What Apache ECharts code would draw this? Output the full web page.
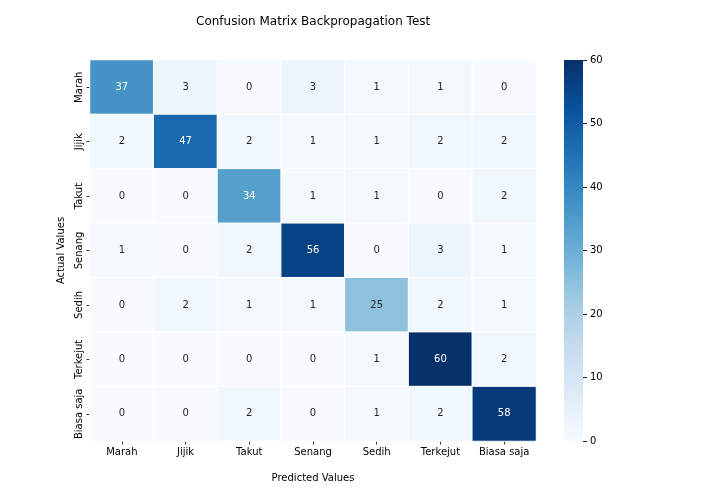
<!DOCTYPE html>
<html>
<head>
<meta charset="utf-8">
<script src="https://cdn.jsdelivr.net/npm/echarts@6/dist/echarts.min.js"></script>
<style>html,body{margin:0;padding:0;background:#fff}#c{width:720px;height:504px}</style>
</head>
<body>
<div id="c"></div>
<script>
var predicted = ['Marah','Jijik','Takut','Senang','Sedih','Terkejut','Biasa saja'];
var actual = ['Marah','Jijik','Takut','Senang','Sedih','Terkejut','Biasa saja'];
var matrix = [
  [37, 3, 0, 3, 1, 1, 0],
  [2, 47, 2, 1, 1, 2, 2],
  [0, 0, 34, 1, 1, 0, 2],
  [1, 0, 2, 56, 0, 3, 1],
  [0, 2, 1, 1, 25, 2, 1],
  [0, 0, 0, 0, 1, 60, 2],
  [0, 0, 2, 0, 1, 2, 58]
];
var colorTicks = [0, 10, 20, 30, 40, 50, 60];
var blues = ['#f7fbff','#deebf7','#c6dbef','#9ecae1','#6baed6','#4292c6','#2171b5','#08519c','#08306b'];

var data = [];
for (var i = 0; i < actual.length; i++) {
  for (var j = 0; j < predicted.length; j++) {
    var v = matrix[i][j];
    data.push({value: [j, i, v], label: {color: v >= 30 ? '#ffffff' : '#262626'}});
  }
}
var stops = blues.map(function (c, k) { return {offset: 1 - k / (blues.length - 1), color: c}; }).reverse();
var font = 'DejaVu Sans';
var chart = echarts.init(document.getElementById('c'));
chart.setOption({
  animation: false,
  textStyle: {fontFamily: font},
  title: {
    text: 'Confusion Matrix Backpropagation Test',
    left: 191, top: 11,
    textStyle: {fontFamily: font, fontSize: 12, fontWeight: 'normal', color: '#000'}
  },
  grid: [
    {left: 90, top: 60, width: 446, height: 381},
    {left: 564, top: 60, width: 19, height: 381}
  ],
  graphic: [{
    type: 'rect', left: 564, top: 60, z: 0,
    shape: {width: 19, height: 381},
    style: {fill: new echarts.graphic.LinearGradient(0, 0, 0, 1, stops)}
  }],
  xAxis: [
    {
      type: 'category', data: predicted, gridIndex: 0,
      name: 'Predicted Values', nameLocation: 'middle', nameGap: 32,
      nameTextStyle: {fontFamily: font, fontSize: 10, color: '#000'},
      axisLine: {show: false},
      axisTick: {show: true, alignWithLabel: true, length: 3.5, lineStyle: {color: '#333'}},
      axisLabel: {fontFamily: font, fontSize: 10, color: '#000', margin: 6, interval: 0},
      splitLine: {show: false}
    },
    {type: 'value', gridIndex: 1, show: false, min: 0, max: 1}
  ],
  yAxis: [
    {
      type: 'category', data: actual, gridIndex: 0, inverse: true,
      name: 'Actual Values', nameLocation: 'middle', nameGap: 19,
      nameTextStyle: {fontFamily: font, fontSize: 10, color: '#000'},
      axisLine: {show: false},
      axisTick: {show: true, alignWithLabel: true, length: 3.5, lineStyle: {color: '#333'}},
      axisLabel: {fontFamily: font, fontSize: 10, color: '#000', rotate: 90, margin: 6, interval: 0},
      splitLine: {show: false}
    },
    {
      type: 'value', gridIndex: 1, position: 'right', min: 0, max: 60, interval: 10,
      axisLine: {show: false, onZero: false},
      axisTick: {show: true, length: 4, lineStyle: {color: '#222', width: 1}},
      axisLabel: {fontFamily: font, fontSize: 10, color: '#000', margin: 7,
        formatter: function (v) { return colorTicks.indexOf(v) >= 0 ? String(v) : ''; }},
      splitLine: {show: false}
    }
  ],
  visualMap: {
    type: 'continuous', min: 0, max: 60, seriesIndex: 0, show: false,
    inRange: {color: blues}
  },
  series: [
    {
      type: 'heatmap', xAxisIndex: 0, yAxisIndex: 0, data: data,
      label: {show: true, fontFamily: font, fontSize: 10,
        formatter: function (p) { return p.value[2]; }},
      itemStyle: {borderColor: '#ffffff', borderWidth: 1},
      emphasis: {disabled: true}
    },
    {type: 'scatter', xAxisIndex: 1, yAxisIndex: 1, data: [], silent: true}
  ]
});
</script>
</body>
</html>
